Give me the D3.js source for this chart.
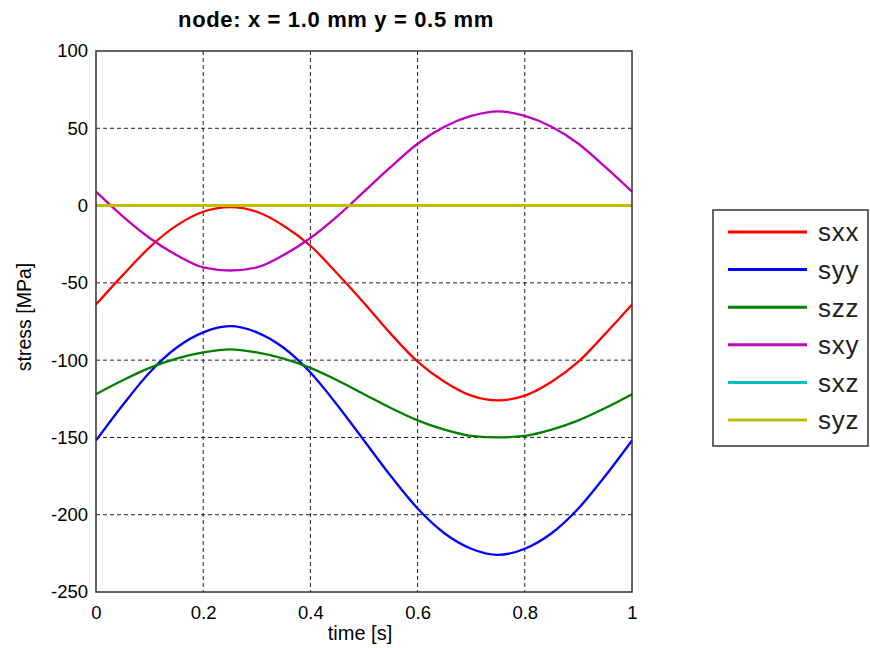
<!DOCTYPE html>
<html>
<head>
<meta charset="utf-8">
<script src="https://cdn.jsdelivr.net/npm/d3@7"></script>
<style>
  html, body { margin: 0; padding: 0; background: #fff; }
  svg { display: block; font-family: "Liberation Sans", Arial, sans-serif; }
</style>
</head>
<body>
<svg id="chart" width="870" height="648"></svg>
<script>
// ---- data ----
const time = [0, 0.05, 0.1, 0.15, 0.2, 0.25, 0.3, 0.35, 0.4, 0.45, 0.5, 0.55, 0.6, 0.65, 0.7, 0.75, 0.8, 0.85, 0.9, 0.95, 1];
const sxx = [-64, -45, -27, -13, -4, -1, -4, -13, -26, -44, -63, -83, -101, -114, -123, -126, -123, -114, -101, -83, -64];
const syy = [-152, -129, -108, -92, -82, -78, -82, -92, -108, -129, -152, -175, -196, -212, -222, -226, -222, -212, -196, -175, -152];
const szz = [-122, -113, -105, -99, -95, -93, -95, -99, -105, -113, -122, -131, -139, -145, -149, -150, -149, -145, -139, -131, -122];
const sxy = [9, -7, -21, -32, -40, -42, -40, -32, -21, -7, 9, 25, 40, 51, 58, 61, 58, 51, 40, 25, 9];
const sxz = [0, 0, 0, 0, 0, 0, 0, 0, 0, 0, 0, 0, 0, 0, 0, 0, 0, 0, 0, 0, 0];
const syz = [0, 0, 0, 0, 0, 0, 0, 0, 0, 0, 0, 0, 0, 0, 0, 0, 0, 0, 0, 0, 0];
const seriesNames = ["sxx", "syy", "szz", "sxy", "sxz", "syz"];
const seriesColors = ["#ff0000", "#0000ff", "#008000", "#bf00bf", "#00bfbf", "#bfbf00"];
const xTicks = [0, 0.2, 0.4, 0.6, 0.8, 1];
const yTicks = [-250, -200, -150, -100, -50, 0, 50, 100];
const titleText = "node: x = 1.0 mm y = 0.5 mm";
const xLabel = "time [s]";
const yLabel = "stress [MPa]";

const seriesValues = [sxx, syy, szz, sxy, sxz, syz];
const series = seriesNames.map((n, i) => ({ name: n, color: seriesColors[i], values: seriesValues[i] }));

// ---- layout ----
const svg = d3.select("#chart");
const L = 96, R = 632, T = 51, B = 592;
const x = d3.scaleLinear().domain([0, 1]).range([L, R]);
const y = d3.scaleLinear().domain([-250, 100]).range([B, T]);

// grid
const grid = svg.append("g");
grid.selectAll("line.gx").data(xTicks.filter(d => d > 0 && d < 1)).join("line")
  .attr("x1", d => x(d)).attr("x2", d => x(d)).attr("y1", T).attr("y2", B)
  .attr("stroke", "#222").attr("stroke-width", 1).attr("stroke-dasharray", "4,3");
grid.selectAll("line.gy").data(yTicks.filter(d => d > -250 && d < 100)).join("line")
  .attr("y1", d => y(d)).attr("y2", d => y(d)).attr("x1", L).attr("x2", R)
  .attr("stroke", "#222").attr("stroke-width", 1).attr("stroke-dasharray", "4,3");

// lines
const line = d3.line()
  .x((d, i) => x(time[i]))
  .y(d => y(d))
  .curve(d3.curveMonotoneX);
svg.append("g").selectAll("path").data(series).join("path")
  .attr("d", d => line(d.values))
  .attr("fill", "none")
  .attr("stroke", d => d.color)
  .attr("stroke-width", d => d.name === "syz" ? 3 : 2.3)
  .attr("shape-rendering", d => d3.max(d.values) === d3.min(d.values) ? "crispEdges" : null);

// axes box
svg.append("rect").attr("x", L).attr("y", T).attr("width", R - L).attr("height", B - T)
  .attr("fill", "none").attr("stroke", "#333").attr("stroke-width", 1.5);

// axes labels via d3 axes
const fmtX = d => d3.format("~g")(d);
const fmtY = d => String(d);
const xAxis = d3.axisBottom(x).tickValues(xTicks).tickFormat(fmtX).tickSize(0).tickPadding(14);
const gx = svg.append("g").attr("transform", `translate(0,${B})`).call(xAxis);
const yAxis = d3.axisLeft(y).tickValues(yTicks).tickFormat(fmtY).tickSize(0).tickPadding(8);
const gy = svg.append("g").attr("transform", `translate(${L},0)`).call(yAxis);
[gx, gy].forEach(g => {
  g.select(".domain").remove();
  g.selectAll(".tick text").attr("fill", "#000")
    .style("font-family", '"Liberation Sans", Arial, sans-serif').style("font-size", "18.5px");
});

// title
svg.append("text").attr("x", 336).attr("y", 27).attr("text-anchor", "middle")
  .style("font-size", "22px").style("font-weight", "bold").style("letter-spacing", "0.65px")
  .text(titleText);

// axis labels
svg.append("text").attr("x", 360).attr("y", 640).attr("text-anchor", "middle")
  .style("font-size", "20px").text(xLabel);
svg.append("text").attr("transform", "translate(31,317) rotate(-90)").attr("text-anchor", "middle")
  .style("font-size", "19.5px").text(yLabel);

// legend
const lg = svg.append("g");
lg.append("rect").attr("x", 713).attr("y", 210).attr("width", 155).attr("height", 236)
  .attr("fill", "#fff").attr("stroke", "#333").attr("stroke-width", 1.5);
const ly = d3.scalePoint().domain(seriesNames).range([232, 420]);
const items = lg.selectAll("g.item").data(series).join("g").attr("class", "item")
  .attr("transform", d => `translate(0,${ly(d.name)})`);
items.append("line").attr("x1", 728).attr("x2", 807).attr("y1", 0).attr("y2", 0)
  .attr("stroke", d => d.color).attr("stroke-width", 3);
items.append("text").attr("x", 818).attr("y", 0).attr("dy", "0.36em")
  .style("font-size", "26px").style("letter-spacing", "0.8px").attr("fill", "#222").text(d => d.name);
</script>
</body>
</html>
